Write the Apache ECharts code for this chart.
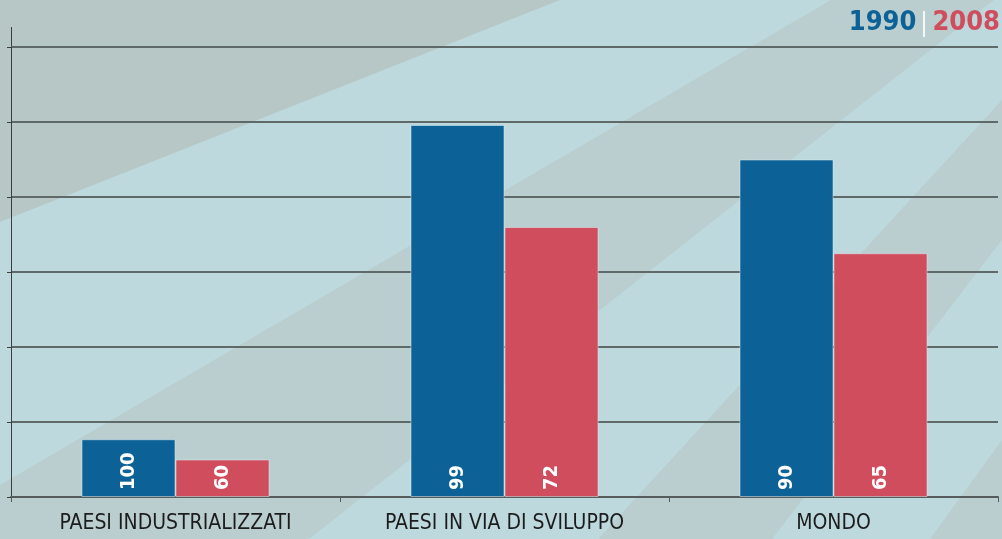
<!DOCTYPE html>
<html>
<head>
<meta charset="utf-8">
<script src="https://cdn.jsdelivr.net/npm/echarts@6/dist/echarts.min.js"></script>
<style>
  html, body { margin: 0; padding: 0; }
  #chart { width: 1002px; height: 539px; }
</style>
</head>
<body>
<div id="chart"></div>
<script>
var myChart = echarts.init(document.getElementById('chart'));

// dati
var categories = ['PAESI INDUSTRIALIZZATI', 'PAESI IN VIA DI SVILUPPO', 'MONDO'];
var seriesNames = ['1990', '2008'];
var values1990 = [0.77, 4.96, 4.5];
var values2008 = [0.5, 3.6, 3.25];
var labels1990 = [100, 99, 90];
var labels2008 = [60, 72, 65];

var blue = '#0c6296';
var red = '#d04d5e';
var narrow = '"DejaVu Sans Condensed", "Liberation Sans Narrow", "DejaVu Sans", sans-serif';

// raggi di luce sullo sfondo (bande piu' scure)
var rays = [
    { pts: [[0, 0], [560, 0], [0, 222]], a: 0.14 },
    { pts: [[831, 0], [994, 0], [309, 539], [0, 539], [0, 485]], a: 0.09 },
    { pts: [[1002, 100], [1002, 240], [772, 539], [598, 539]], a: 0.09 },
    { pts: [[1002, 440], [1002, 539], [930, 539]], a: 0.09 }
];
var bg = rays.map(function (r) {
    return {
        type: 'polygon',
        z: -10,
        silent: true,
        shape: { points: r.pts },
        style: { fill: 'rgba(150, 90, 60, ' + r.a + ')' }
    };
});
bg.push({
    type: 'line',
    silent: true,
    shape: { x1: 11.5, y1: 27, x2: 11.5, y2: 47 },
    style: { stroke: '#3a3f3e', lineWidth: 1 }
});
bg.push({
    type: 'rect',
    silent: true,
    shape: { x: 923, y: 11, width: 2, height: 26 },
    style: { fill: 'rgba(255,255,255,0.85)' }
});

function barLabel(arr) {
    return {
        show: true,
        position: 'insideBottom',
        rotate: 90,
        align: 'left',
        verticalAlign: 'middle',
        distance: 7,
        color: '#fff',
        fontFamily: narrow,
        fontWeight: 'bold',
        fontSize: 20,
        formatter: function (p) { return arr[p.dataIndex]; }
    };
}

option = {
    backgroundColor: '#bdd9de',
    animation: false,
    graphic: bg,
    legend: {
        right: 2,
        top: 9,
        padding: 0,
        itemWidth: 0,
        itemHeight: 0,
        itemGap: 10,
        selectedMode: false,
        textStyle: {
            fontFamily: narrow,
            fontWeight: 'bold',
            fontSize: 27
        },
        data: [
            { name: '1990', textStyle: { color: blue } },
            { name: '2008', textStyle: { color: red } }
        ]
    },
    grid: {
        left: 11,
        right: 4,
        top: 47,
        bottom: 42,
        containLabel: false
    },
    xAxis: {
        type: 'category',
        data: categories,
        axisLine: { lineStyle: { color: '#555c5b', width: 2 } },
        axisTick: { show: true, length: 5, lineStyle: { color: '#555c5b' } },
        axisLabel: {
            interval: 0,
            color: '#1c1c1c',
            fontFamily: narrow,
            fontSize: 21,
            margin: 16
        }
    },
    yAxis: {
        type: 'value',
        min: 0,
        max: 6,
        interval: 1,
        axisLine: { show: true, lineStyle: { color: '#3a3f3e', width: 1 } },
        axisTick: { show: true, length: 4, lineStyle: { color: '#3a3f3e' } },
        axisLabel: { show: false },
        splitLine: { lineStyle: { color: '#5f6967', width: 2 } }
    },
    series: [{
        name: seriesNames[0],
        type: 'bar',
        barWidth: 94,
        barGap: '0%',
        itemStyle: { color: blue, borderColor: 'rgba(225,240,245,0.5)', borderWidth: 1 },
        label: barLabel(labels1990),
        data: values1990
    }, {
        name: seriesNames[1],
        type: 'bar',
        barWidth: 94,
        itemStyle: { color: red, borderColor: 'rgba(225,240,245,0.5)', borderWidth: 1 },
        label: barLabel(labels2008),
        data: values2008
    }]
};

myChart.setOption(option);
window.onresize = myChart.resize;
</script>
</body>
</html>
